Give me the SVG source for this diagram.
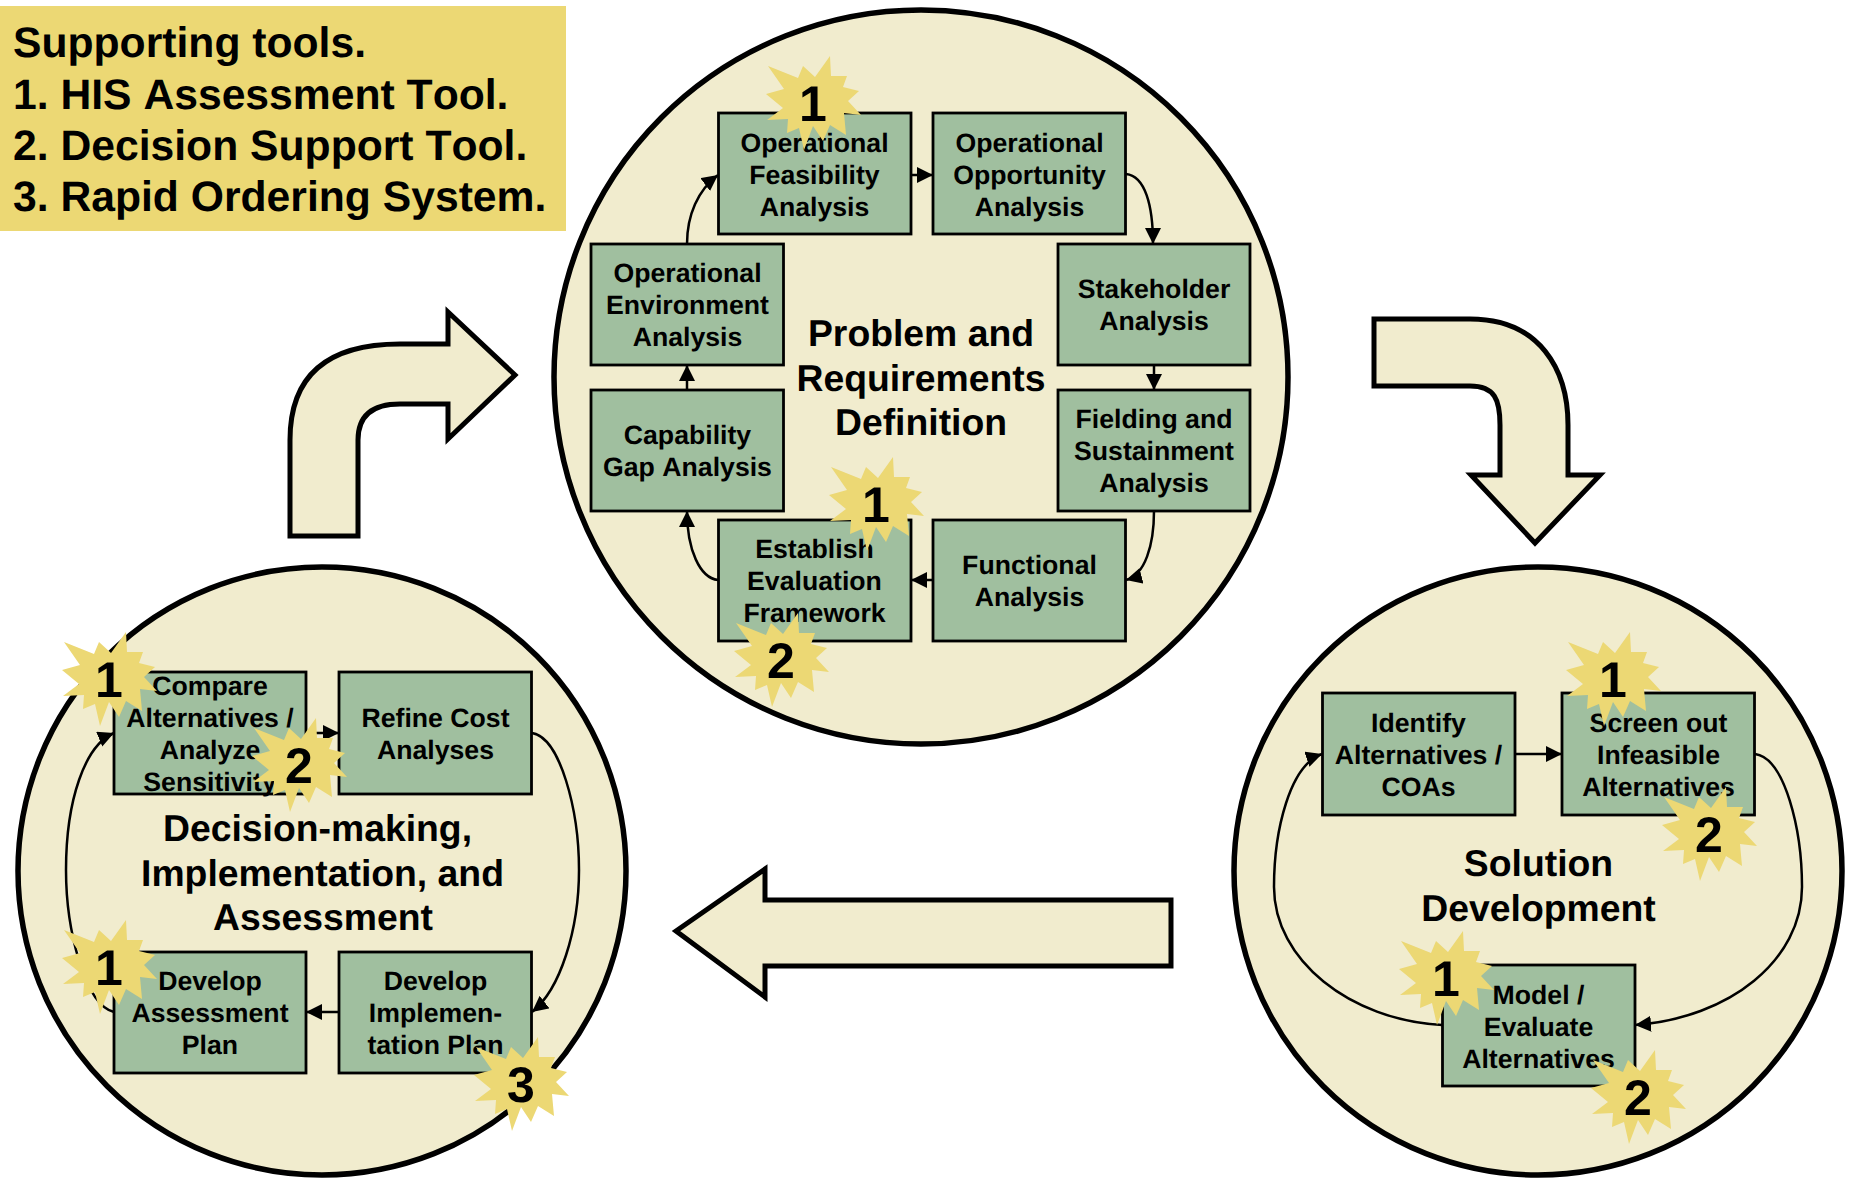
<svg xmlns="http://www.w3.org/2000/svg" xmlns:xlink="http://www.w3.org/1999/xlink" width="1849" height="1178" viewBox="0 0 1849 1178">
<style>
text{font-family:"Liberation Sans",Arial,sans-serif;font-weight:bold;fill:#000;text-anchor:middle;font-kerning:none;text-rendering:geometricPrecision}
.box{fill:#a0bf9f;stroke:#000;stroke-width:2.8}
.phase{fill:#f1ecce;stroke:#000;stroke-width:5.5}
.big{fill:#f1ecce;stroke:#000;stroke-width:5;stroke-linejoin:miter}
.t{font-size:26.67px}
.title{font-size:37.33px}
.legend{font-size:42.67px;text-anchor:start}
.num{font-size:50px}
.star{fill:#ecd874}
.c{fill:none;stroke:#000;stroke-width:2.5;marker-end:url(#ah)}
</style>
<defs>
<marker id="ah" markerUnits="userSpaceOnUse" markerWidth="18" markerHeight="18" refX="16" refY="8" orient="auto"><path d="M0 0L16 8L0 16Z" fill="#000"/></marker>
<polygon id="burst" points="17,-47 18,-27 34,-27 30,-16 46,-12 35,-2 48,12 31,10 33,32 17,22 10,38 0,23 -9,47 -14,25 -26,30 -25,16 -46,17 -30,5 -47,-9 -29,-14 -45,-37 -15,-25 -10,-37 2,-26"/>
</defs>
<rect id="legend-bg" x="0" y="6" width="566" height="225" fill="#ecd874"/>
<g id="legend">
<text class="legend" x="13" y="57">Supporting tools.</text>
<text class="legend" x="13" y="109">1. HIS Assessment Tool.</text>
<text class="legend" x="13" y="160">2. Decision Support Tool.</text>
<text class="legend" x="13" y="211">3. Rapid Ordering System.</text>
</g>
<g id="phase-arrows">
<path class="big" d="M290 536V440Q290 344 400 344H448V312L515 375L448 439V404H400Q358 404 358 440V536Z"/>
<path class="big" d="M1374 319H1470C1540 319 1568 370 1568 425V475H1600L1535 543L1471 475H1500V425C1500 400 1495 386 1470 386H1374Z"/>
<path class="big" d="M1171 900H765V869L676 931L765 997V966H1171Z"/>
</g>
<g id="phase-problem"><circle class="phase" cx="921" cy="377" r="367"/>
<text class="title"><tspan x="921" y="346">Problem and</tspan><tspan x="921" y="391">Requirements</tspan><tspan x="921" y="435">Definition</tspan></text></g>
<g id="phase-solution"><circle class="phase" cx="1538" cy="871" r="304"/>
<text class="title"><tspan x="1538.5" y="876">Solution</tspan><tspan x="1538.5" y="921">Development</tspan></text></g>
<g id="phase-decision"><circle class="phase" cx="322" cy="871" r="304"/>
<text class="title"><tspan x="317.5" y="841">Decision-making,</tspan><tspan x="322.5" y="886">Implementation, and</tspan><tspan x="323" y="930">Assessment</tspan></text></g>
<g id="connectors">
<path class="c" d="M687 244C687 215 698 190 718 175"/>
<path class="c" d="M911 175H933"/>
<path class="c" d="M1126 174C1145 176 1153 205 1153 244"/>
<path class="c" d="M1154 365V390"/>
<path class="c" d="M1154 511C1154 545 1145 575 1126 580"/>
<path class="c" d="M933 580H911"/>
<path class="c" d="M718 580C700 578 687 550 687 511"/>
<path class="c" d="M687 390V365"/>
<path class="c" d="M306 733H339"/>
<path class="c" d="M532 733C560 737 579 810 579 870C579 930 560 990 532 1012"/>
<path class="c" d="M339 1012H306"/>
<path class="c" d="M114 1012C85 1005 66 930 66 870C66 800 85 745 114 733"/>
<path class="c" d="M1515 754H1562"/>
<path class="c" d="M1755 754C1785 758 1802 830 1802 887C1802 960 1730 1018 1635 1025"/>
<path class="c" d="M1442 1025C1350 1020 1274 960 1274 887C1274 830 1290 765 1322 754"/>
</g>
<g id="n-ofa"><rect class="box" x="718.5" y="113" width="192.5" height="121"/><text class="t"><tspan x="814.5" y="152">Operational</tspan><tspan x="814.5" y="184">Feasibility</tspan><tspan x="814.5" y="216">Analysis</tspan></text></g>
<g id="n-ooa"><rect class="box" x="933" y="113" width="192.5" height="121"/><text class="t"><tspan x="1029.5" y="152">Operational</tspan><tspan x="1029.5" y="184">Opportunity</tspan><tspan x="1029.5" y="216">Analysis</tspan></text></g>
<g id="n-oea"><rect class="box" x="591" y="244" width="192.5" height="121"/><text class="t"><tspan x="687.5" y="282">Operational</tspan><tspan x="687.5" y="314">Environment</tspan><tspan x="687.5" y="346">Analysis</tspan></text></g>
<g id="n-sa"><rect class="box" x="1058" y="244" width="192" height="121"/><text class="t"><tspan x="1154" y="298">Stakeholder</tspan><tspan x="1154" y="330">Analysis</tspan></text></g>
<g id="n-cga"><rect class="box" x="591" y="390" width="192.5" height="121"/><text class="t"><tspan x="687.5" y="444">Capability</tspan><tspan x="687.5" y="476">Gap Analysis</tspan></text></g>
<g id="n-fsa"><rect class="box" x="1058" y="390" width="192" height="121"/><text class="t"><tspan x="1154" y="428">Fielding and</tspan><tspan x="1154" y="460">Sustainment</tspan><tspan x="1154" y="492">Analysis</tspan></text></g>
<g id="n-eef"><rect class="box" x="718.5" y="520" width="192.5" height="121"/><text class="t"><tspan x="814.5" y="558">Establish</tspan><tspan x="814.5" y="590">Evaluation</tspan><tspan x="814.5" y="622">Framework</tspan></text></g>
<g id="n-fa"><rect class="box" x="933" y="520" width="192.5" height="121"/><text class="t"><tspan x="1029.5" y="574">Functional</tspan><tspan x="1029.5" y="606">Analysis</tspan></text></g>
<g id="n-compare"><rect class="box" x="114" y="672" width="192" height="122"/><text class="t"><tspan x="210" y="695">Compare</tspan><tspan x="210" y="727">Alternatives /</tspan><tspan x="210" y="759">Analyze</tspan><tspan x="210" y="791">Sensitivity</tspan></text></g>
<g id="n-refine"><rect class="box" x="339" y="672" width="192.5" height="122"/><text class="t"><tspan x="435.5" y="727">Refine Cost</tspan><tspan x="435.5" y="759">Analyses</tspan></text></g>
<g id="n-assess"><rect class="box" x="114" y="952" width="192" height="121"/><text class="t"><tspan x="210" y="990">Develop</tspan><tspan x="210" y="1022">Assessment</tspan><tspan x="210" y="1054">Plan</tspan></text></g>
<g id="n-impl"><rect class="box" x="339" y="952" width="192.5" height="121"/><text class="t"><tspan x="435.5" y="990">Develop</tspan><tspan x="435.5" y="1022">Implemen-</tspan><tspan x="435.5" y="1054">tation Plan</tspan></text></g>
<g id="n-identify"><rect class="box" x="1322.5" y="693" width="192.5" height="122"/><text class="t"><tspan x="1418.5" y="732">Identify</tspan><tspan x="1418.5" y="764">Alternatives /</tspan><tspan x="1418.5" y="796">COAs</tspan></text></g>
<g id="n-screen"><rect class="box" x="1562" y="693" width="192.5" height="122"/><text class="t"><tspan x="1658.5" y="732">Screen out</tspan><tspan x="1658.5" y="764">Infeasible</tspan><tspan x="1658.5" y="796">Alternatives</tspan></text></g>
<g id="n-model"><rect class="box" x="1442.5" y="965" width="192.5" height="121"/><text class="t"><tspan x="1538.5" y="1004">Model /</tspan><tspan x="1538.5" y="1036">Evaluate</tspan><tspan x="1538.5" y="1068">Alternatives</tspan></text></g>
<g id="tool-badges">
<g id="b1" transform="translate(813 103)"><use href="#burst" class="star"/><text class="num" y="18">1</text></g>
<g id="b2" transform="translate(876 504)"><use href="#burst" class="star"/><text class="num" y="18">1</text></g>
<g id="b3" transform="translate(781 660)"><use href="#burst" class="star"/><text class="num" y="18">2</text></g>
<g id="b4" transform="translate(109 679)"><use href="#burst" class="star"/><text class="num" y="18">1</text></g>
<g id="b5" transform="translate(299 765)"><use href="#burst" class="star"/><text class="num" y="18">2</text></g>
<g id="b6" transform="translate(109 967)"><use href="#burst" class="star"/><text class="num" y="18">1</text></g>
<g id="b7" transform="translate(521 1084)"><use href="#burst" class="star"/><text class="num" y="18">3</text></g>
<g id="b8" transform="translate(1613 679)"><use href="#burst" class="star"/><text class="num" y="18">1</text></g>
<g id="b9" transform="translate(1709 834)"><use href="#burst" class="star"/><text class="num" y="18">2</text></g>
<g id="b10" transform="translate(1446 978)"><use href="#burst" class="star"/><text class="num" y="18">1</text></g>
<g id="b11" transform="translate(1638 1097)"><use href="#burst" class="star"/><text class="num" y="18">2</text></g>
</g>
</svg>
